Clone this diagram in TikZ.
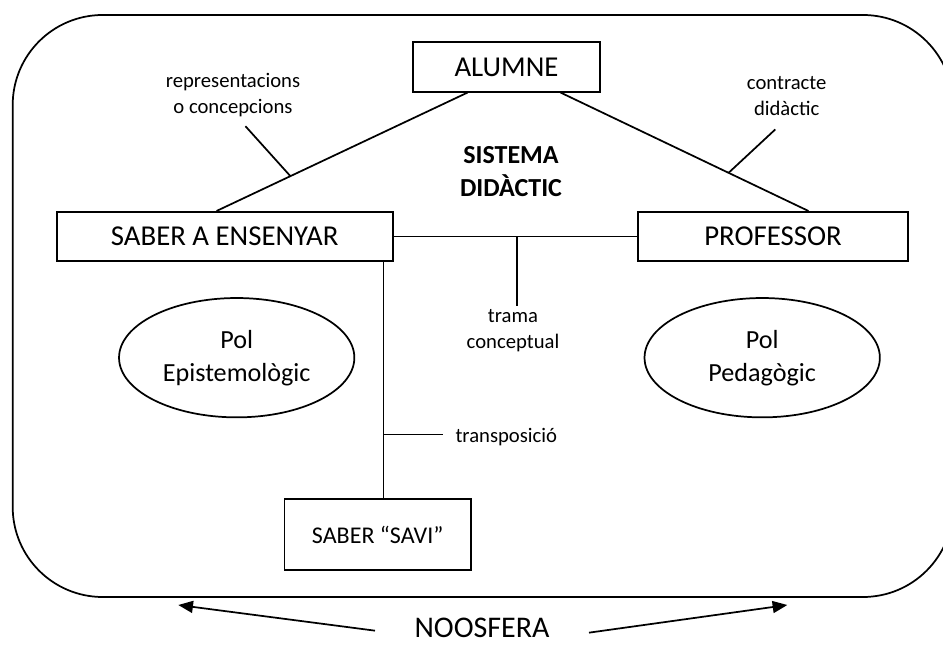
\documentclass[tikz,border=0pt]{standalone}
\usepackage{fontspec}
\setmainfont{Carlito}
\usetikzlibrary{shapes.geometric,calc,arrows.meta}

\begin{document}
\begin{tikzpicture}[x=0.75pt,y=-0.75pt,line width=1.3pt,
  box/.style={draw,minimum height=37pt,inner sep=0pt,font=\fontsize{21.6}{26}\selectfont},
  pol/.style={draw,ellipse,minimum width=176.5pt,minimum height=89.5pt,inner sep=0pt,align=center,font=\fontsize{19.6}{24.75}\selectfont},
  note/.style={align=center,inner sep=2pt,font=\fontsize{15.5}{19.5}\selectfont},
  tip/.style={-{Triangle[length=11pt,width=9pt]}}]
  \clip (0,0) rectangle (943,648);
  \draw[rounded corners=67.5pt] (12.7,15) rectangle (953,597);

  \node[box,minimum width=140.25pt] (alumne) at (506.5,67) {ALUMNE};
  \node[box,minimum width=252pt] (saber) at (224.7,236.5) {SABER A ENSENYAR};
  \node[box,minimum width=203pt] (prof) at (773,236.5) {PROFESSOR};
  \node[box,minimum width=140pt,minimum height=53.25pt,font=\fontsize{18}{22}\selectfont] (savi) at (377.7,534.5) {SABER “SAVI”};

  \node[align=center,font=\bfseries\fontsize{19.5}{24.75}\selectfont] (sistema) at (511,171.5) {SISTEMA\\DIDÀCTIC};
  \node[pol] (epist) at (236.7,357.7) {Pol\\Epistemològic};
  \node[pol] (pedag) at (762.2,357.7) {Pol\\Pedagògic};

  \node[note] (repr) at (233,95) {representacions\\o concepcions};
  \node[note] (contr) at (786.7,96) {contracte\\didàctic};
  \node[note] (trama) at (513,330.5) {trama\\conceptual};
  \node[note,anchor=west] (transp) at (452,437) {transposició};
  \node[font=\fontsize{22.5}{27}\selectfont,inner xsep=29pt,inner ysep=0pt] (noos) at (482,628) {NOOSFERA};

  \draw ($(alumne.south west)!0.294!(alumne.south east)$) -- coordinate[pos=0.706] (t1)
        ($(saber.north west)!0.476!(saber.north east)$);
  \draw ($(alumne.south west)!0.786!(alumne.south east)$) -- coordinate[pos=0.678] (t2)
        ($(prof.north west)!0.63!(prof.north east)$);
  \draw (t1) -- ++(-45,-50);
  \draw (t2) -- ++(46.7,-43.4);

  \draw (saber.east) -- coordinate[pos=0.506] (t3) (prof.west);
  \draw (t3) -- (t3 |- trama.north);

  \draw ($(saber.south east)+(-10,0)$) coordinate (s0) -- coordinate[pos=0.73] (t4) (s0 |- savi.north);
  \draw (t4) -- ++(59,0);

  \coordinate (nl) at (178.3,605);
  \coordinate (nr) at (787.3,605);
  \draw[tip] ([yshift=-2pt]noos.west) -- (nl);
  \draw[tip] ([yshift=-3.5pt]noos.east) -- (nr);
\end{tikzpicture}
\end{document}
